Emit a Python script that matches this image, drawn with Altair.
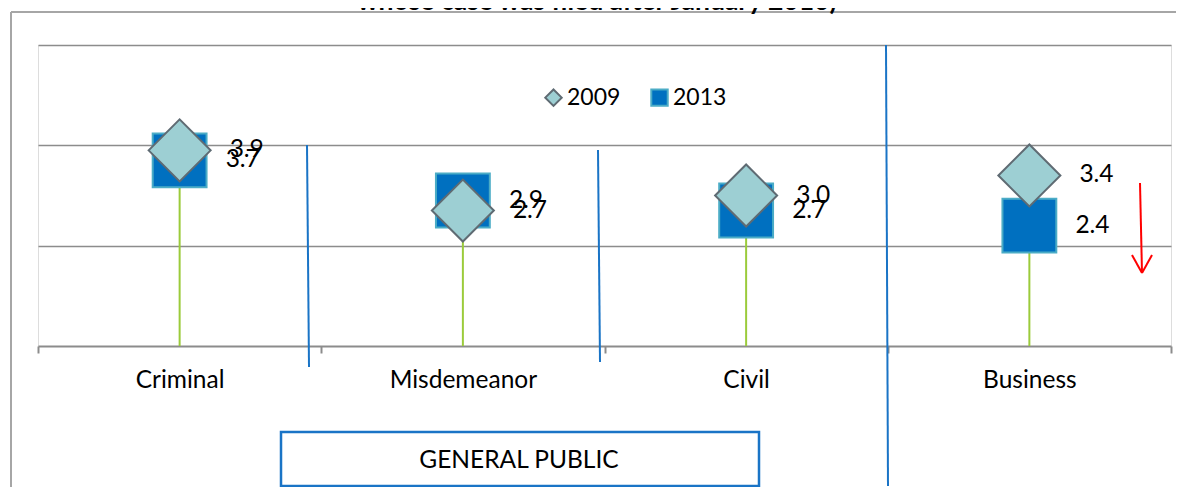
import altair as alt
import pandas as pd

# ---- data ----
categories = ["Criminal", "Misdemeanor", "Civil", "Business"]
values_2009 = [3.9, 2.7, 3.0, 3.4]
values_2013 = [3.7, 2.9, 2.7, 2.4]
years = ["2009", "2013"]
title_text = "whose case was filed after January 2010)"
box_text = "GENERAL PUBLIC"

df09 = pd.DataFrame({"category": categories, "year": years[0], "value": values_2009})
df13 = pd.DataFrame({"category": categories, "year": years[1], "value": values_2013})
one = pd.DataFrame({"k": [0]})

W, H = 1133, 301
FONT = "Lato"
FS = 24.5
GRID = "#8C8C8C"
BLUE_LINE = "#1A74C6"

x_enc = alt.X(
    "category:N", sort=categories,
    scale=alt.Scale(paddingInner=0, paddingOuter=0),
    axis=alt.Axis(title=None, labelAngle=0, tickBand="extent",
                  domainColor=GRID, domainWidth=2, tickColor=GRID, tickWidth=2,
                  tickSize=7, labelFont=FONT, labelFontSize=FS, labelColor="black",
                  labelBaseline="middle", labelPadding=27, grid=False),
)
y_enc = alt.Y(
    "value:Q", scale=alt.Scale(domain=[0, 6], nice=False, zero=True),
    axis=alt.Axis(title=None, values=[2, 4, 6], grid=True, gridColor=GRID,
                  gridWidth=1.5, labels=False, ticks=False, domain=False),
)

leg = alt.Legend(title=None, orient="none", legendX=504, legendY=41,
                 direction="horizontal", labelFont=FONT,
                 labelFontSize=23, labelColor="black", symbolSize=270,
                 symbolStrokeWidth=2, columnPadding=26, labelOffset=2)
shape_enc = alt.Shape("year:N", scale=alt.Scale(domain=years, range=["diamond", "square"]), legend=leg)
fill_enc = alt.Fill("year:N", scale=alt.Scale(domain=years, range=["#9DCFD3", "#0070C0"]), legend=leg)
stroke_enc = alt.Stroke("year:N", scale=alt.Scale(domain=years, range=["#5F6B73", "#4BACC6"]), legend=leg)

drop_layer = alt.Chart(df09).mark_rule(color="#9BCB3B", strokeWidth=2).encode(
    x=x_enc, y=y_enc, y2=alt.datum(0)
)

squares = alt.Chart(df13).mark_point(filled=True, strokeWidth=2, opacity=1, size=2900).encode(
    x=x_enc, y=y_enc, shape=shape_enc, fill=fill_enc, stroke=stroke_enc
)
diamonds = alt.Chart(df09).mark_point(filled=True, strokeWidth=2, opacity=1, size=3844).encode(
    x=x_enc, y=y_enc, shape=shape_enc, fill=fill_enc, stroke=stroke_enc
)

labels09 = alt.Chart(df09).mark_text(align="left", baseline="middle", dx=50,
                                     font=FONT, fontSize=FS, color="black").encode(
    x=x_enc, y=y_enc, text=alt.Text("value:Q", format=".1f")
)
labels13 = alt.Chart(df13).mark_text(align="left", baseline="middle", dx=46,
                                     font=FONT, fontSize=FS, color="black").encode(
    x=x_enc, y=y_enc, text=alt.Text("value:Q", format=".1f")
)

def seg(x1, y1, x2, y2, color, width):
    return alt.Chart(one).mark_rule(color=color, strokeWidth=width).encode(
        x=alt.value(x1), y=alt.value(y1), x2=alt.value(x2), y2=alt.value(y2)
    )

separators = [
    seg(269, 100, 271, 322, BLUE_LINE, 2),
    seg(560, 105, 562, 317, BLUE_LINE, 2),
    seg(848, 0, 850, 441, BLUE_LINE, 2),
]
arrow = [
    seg(1102, 138, 1104, 228, "#FF0000", 2),
    seg(1094, 210, 1104, 228, "#FF0000", 2),
    seg(1114, 210, 1104, 228, "#FF0000", 2),
]
frame = [
    seg(-27, -33, 1145, -33, "#A6A6A6", 2),
    seg(-27, -33, -27, 452, "#A6A6A6", 2),
]

box = alt.Chart(one).mark_rect(fill="white", stroke=BLUE_LINE, strokeWidth=2.5).encode(
    x=alt.value(243), x2=alt.value(721), y=alt.value(387), y2=alt.value(441)
)
box_label = alt.Chart(one).mark_text(font=FONT, fontSize=FS, color="black",
                                     align="center", baseline="middle").encode(
    x=alt.value(481), y=alt.value(416), text=alt.value(box_text)
)
title = alt.Chart(one).mark_text(font=FONT, fontSize=26.5, fontWeight="bold", color="black",
                                 align="center", baseline="alphabetic").encode(
    x=alt.value(559), y=alt.value(-35), text=alt.value(title_text)
)

chart = alt.layer(
    drop_layer, squares, diamonds, labels09, labels13, *separators, *arrow,
    box, box_label, *frame, title
).properties(
    width=W, height=H,
    padding={"left": 30, "top": 37, "right": 5, "bottom": 141},
    autosize=alt.AutoSizeParams(type="none"),
).configure_view(stroke=None).configure(background="white")

chart.save("out.html", embed_options={"renderer": "svg", "actions": False})
